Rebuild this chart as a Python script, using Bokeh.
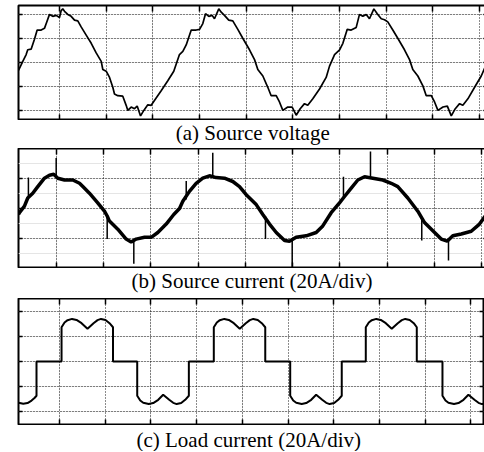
from bokeh.plotting import figure
from bokeh.models import Range1d, FixedTicker, LinearAxis, Grid
from bokeh.core.properties import value
from bokeh.layouts import column
from bokeh.embed import file_html
from bokeh.resources import INLINE

# ---------------- data (time in ms, amplitude in divisions) ----------------
time_ticks = [0, 5, 10, 15, 20, 25, 30, 35, 40, 45]
volt_ticks = [-2, -1, 0, 1, 2]
src_cur_ticks = [-1, 0, 1]
load_ticks = [-2, -1, 0, 1, 2]

captions = ["(a) Source voltage", "(b) Source current (20A/div)", "(c) Load current (20A/div)"]

volt_t = [-4.39, -3.93, -3.57, -3.40, -3.03, -2.68, -2.39, -1.96, -1.61, -1.42,
          -1.07, -0.72, -0.35, 0.00, 0.18, 0.35, 0.54, 0.89, 1.25, 1.61,
          1.96, 2.32, 2.86, 3.40, 3.93, 4.47, 4.64, 5.00, 5.36, 5.71,
          5.89, 6.24, 6.78, 7.14, 7.32, 7.68, 8.03, 8.32, 8.68, 9.03,
          9.46, 9.82, 10.17, 10.89, 11.60, 12.24, 12.85, 13.21, 13.57, 14.11,
          14.64, 15.00, 15.35, 15.64, 15.99, 16.35, 16.60, 17.06, 17.32, 17.67,
          18.13, 18.56, 19.10, 19.63, 20.35, 20.89, 21.24, 21.78, 22.31, 22.67,
          23.21, 23.56, 23.92, 24.45, 24.92, 25.35, 25.78, 26.24, 26.59, 27.13,
          27.85, 28.56, 28.92, 29.46, 30.00, 30.35, 30.82, 31.24, 31.78, 32.13,
          32.49, 32.85, 33.20, 33.67, 34.03, 34.46, 34.81, 35.16, 35.70, 36.23,
          36.95, 37.49, 37.84, 38.38, 38.92, 39.28, 39.82, 40.17, 40.53, 41.07,
          41.54, 41.96, 42.39, 42.85, 43.20, 43.74, 44.46, 45.17, 45.71, 45.96]
volt_v = [-0.33, 0.05, 0.33, 0.53, 0.56, 0.97, 1.35, 1.35, 1.42, 1.62,
          2.00, 1.92, 1.96, 1.87, 2.16, 2.23, 2.13, 2.00, 1.92, 1.76,
          1.73, 1.48, 1.14, 0.80, 0.40, 0.05, -0.29, -0.36, -0.62, -1.03,
          -1.31, -1.38, -1.40, -1.78, -1.99, -1.85, -1.92, -1.81, -2.22, -1.99,
          -1.76, -1.78, -1.58, -1.17, -0.76, -0.36, 0.33, 0.46, 0.73, 1.35,
          1.35, 1.38, 1.62, 2.03, 1.92, 1.96, 1.82, 2.23, 2.09, 1.96,
          1.76, 1.73, 1.38, 1.01, 0.53, 0.12, -0.29, -0.56, -1.03, -1.38,
          -1.38, -1.64, -1.99, -1.85, -1.85, -2.19, -1.92, -1.71, -1.78, -1.51,
          -1.10, -0.62, -0.15, 0.33, 0.53, 0.80, 1.38, 1.35, 1.46, 2.00,
          1.92, 2.00, 1.82, 2.23, 2.03, 1.82, 1.78, 1.69, 1.35, 1.01,
          0.53, 0.12, -0.29, -0.56, -0.97, -1.38, -1.38, -1.64, -1.99, -1.85,
          -1.81, -2.22, -1.92, -1.71, -1.78, -1.51, -1.03, -0.56, -0.08, 0.12]

cur_t = [-4.02, -3.92, -3.39, -3.04, -2.51, -1.98, -1.27, -0.74, -0.29, 0.14,
         0.85, 1.73, 2.44, 2.79, 3.49, 4.37, 5.08, 5.37, 5.61, 6.49,
         7.38, 7.91, 8.44, 9.32, 10.03, 10.73, 11.62, 12.42, 13.03, 13.38,
         14.08, 14.79, 15.49, 16.20, 16.91, 17.79, 18.67, 19.38, 20.09, 21.15,
         21.85, 22.56, 23.27, 24.15, 24.67, 25.38, 26.44, 27.50, 28.20, 29.09,
         29.97, 30.50, 31.21, 31.91, 32.62, 33.50, 34.56, 35.44, 36.14, 37.20,
         38.26, 38.97, 39.85, 40.74, 41.37, 41.97, 42.86, 43.92, 44.79, 45.75]
cur_v = [-0.20, -0.14, 0.08, 0.35, 0.51, 0.73, 1.01, 1.11, 1.14, 1.01,
         0.95, 0.95, 0.84, 0.73, 0.51, 0.19, -0.09, -0.25, -0.42, -0.69,
         -1.02, -1.12, -1.02, -0.96, -0.96, -0.80, -0.52, -0.20, 0.00, 0.24,
         0.57, 0.84, 1.01, 1.09, 1.03, 1.01, 0.90, 0.73, 0.46, 0.13,
         -0.20, -0.52, -0.80, -1.07, -1.09, -0.96, -0.91, -0.80, -0.58, -0.14,
         0.19, 0.40, 0.68, 0.95, 1.06, 1.01, 0.95, 0.84, 0.73, 0.35,
         -0.09, -0.47, -0.74, -1.02, -1.09, -0.91, -0.85, -0.76, -0.52, -0.10]

spike_t = [-2.97, -0.03, 5.37, 8.19, 13.74, 16.55, 22.13, 24.96, 30.39, 33.25, 38.68, 41.51]
spike_base = [0.36, 1.11, -0.25, -1.08, 0.30, 1.08, -0.26, -1.08, 0.36, 1.05, -0.30, -1.08]
spike_tip = [1.03, 1.68, -1.02, -1.84, 0.92, 1.86, -1.02, -2.03, 1.06, 1.90, -1.07, -1.73]

load_t = [-4.49, -3.97, -3.50, -3.06, -2.74, -2.52, -2.52, 0.22, 0.22,
          0.55, 0.88, 1.37, 1.86, 2.41, 3.06, 3.72, 4.16, 4.54, 5.03, 5.47, 5.85, 5.85,
          8.50, 8.50, 8.83, 9.16, 9.76, 10.25, 10.80, 11.34, 12.00, 12.44, 12.82, 13.31, 13.75, 14.15, 14.15,
          16.88, 16.88, 17.21, 17.54, 18.03, 18.52, 19.07, 19.72, 20.38, 20.82, 21.20, 21.69, 22.13, 22.51, 22.51,
          25.24, 25.24, 25.57, 25.90, 26.50, 26.99, 27.54, 28.08, 28.74, 29.18, 29.56, 30.05, 30.49, 30.88, 30.88,
          33.51, 33.51, 33.84, 34.17, 34.66, 35.15, 35.70, 36.35, 37.01, 37.45, 37.83, 38.32, 38.76, 39.09, 39.09,
          41.90, 41.90, 42.23, 42.55, 43.16, 43.65, 44.20, 44.74, 45.40, 45.84, 46.22, 46.49]
load_v = [-1.64, -1.68, -1.65, -1.55, -1.45, -1.36, 0, 0, 1.36,
          1.55, 1.64, 1.69, 1.65, 1.52, 1.30, 1.52, 1.64, 1.69, 1.65, 1.52, 1.36, 0,
          0, -1.36, -1.55, -1.64, -1.69, -1.65, -1.52, -1.32, -1.52, -1.64, -1.69, -1.65, -1.52, -1.36, 0,
          0, 1.36, 1.55, 1.64, 1.69, 1.65, 1.52, 1.30, 1.52, 1.64, 1.69, 1.65, 1.52, 1.36, 0,
          0, -1.36, -1.55, -1.64, -1.69, -1.65, -1.52, -1.32, -1.52, -1.64, -1.69, -1.65, -1.52, -1.36, 0,
          0, 1.36, 1.55, 1.64, 1.69, 1.65, 1.52, 1.30, 1.52, 1.64, 1.69, 1.65, 1.52, 1.36, 0,
          0, -1.36, -1.55, -1.64, -1.69, -1.65, -1.52, -1.32, -1.52, -1.64, -1.69, -1.68]

FONT = "Liberation Serif"
CAPTION_X = 20.7   # ms, horizontal centre of the captions


def panel(xr, yr, yticks, fw, fh, bl, bt):
    p = figure(output_backend="svg", toolbar_location=None,
               x_range=Range1d(*xr), y_range=Range1d(*yr),
               frame_width=fw, frame_height=fh,
               min_border_left=bl, min_border_right=1,
               min_border_top=bt, min_border_bottom=0,
               x_axis_location=None, y_axis_location=None)
    p.outline_line_color = "black"
    p.outline_line_width = 2
    p.background_fill_color = "white"
    p.border_fill_color = "white"
    p.add_layout(Grid(dimension=0, ticker=FixedTicker(ticks=time_ticks),
                      grid_line_color="black", grid_line_alpha=0.9,
                      grid_line_dash="1 2", grid_line_width=1))
    p.add_layout(Grid(dimension=1, ticker=FixedTicker(ticks=yticks),
                      grid_line_color="black", grid_line_alpha=0.9,
                      grid_line_dash="1 2", grid_line_width=1))
    for side, ticks, tin in (("below", time_ticks, 6), ("above", time_ticks, 6),
                             ("left", yticks, 4), ("right", yticks, 4)):
        ax = LinearAxis(ticker=FixedTicker(ticks=ticks), major_tick_in=tin, major_tick_out=0,
                        minor_tick_line_color=None, axis_line_color=None,
                        major_label_text_font_size="0px", major_label_text_color=None,
                        major_label_standoff=0,
                        major_tick_line_color="black", major_tick_line_width=1.5)
        p.add_layout(ax, side)
    return p


def caption_fig(text, x_range, fw, bl, h, ymid):
    c = figure(output_backend="svg", toolbar_location=None,
               x_range=x_range, y_range=Range1d(0, h),
               frame_width=fw, frame_height=h,
               min_border_left=bl, min_border_right=1,
               min_border_top=0, min_border_bottom=0,
               x_axis_location=None, y_axis_location=None)
    c.outline_line_color = None
    c.grid.visible = False
    c.text(x=[CAPTION_X], y=[ymid], text=[text], text_align="center",
           text_baseline="middle", text_font=value(FONT),
           text_font_size="21px", text_color="black")
    return c


pa = panel((-4.39, 45.84), (-2.41, 2.37), volt_ticks, 469, 115, 14, 5)
pa.line(volt_t, volt_v, line_color="black", line_width=1.7)
ca = caption_fig(captions[0], pa.x_range, 469, 14, 28, 16.0)

pb = panel((-4.02, 45.64), (-2.0, 2.0), src_cur_ticks, 469, 120, 14, 0)
pb.line(cur_t, cur_v, line_color="black", line_width=3.5)
pb.segment(x0=spike_t, y0=spike_base, x1=spike_t, y1=spike_tip, line_color="black", line_width=1.5)
cb = caption_fig(captions[1], pb.x_range, 469, 14, 30, 18.0)

pc = panel((-4.49, 46.39), (-2.54, 2.5), load_ticks, 465, 127, 18, 0)
pc.line(load_t, load_v, line_color="black", line_width=2)
cc = caption_fig(captions[2], pc.x_range, 465, 18, 26, 12.0)

layout = column(pa, ca, pb, cb, pc, cc, spacing=0)
open("out.html", "w").write(file_html(layout, INLINE))
